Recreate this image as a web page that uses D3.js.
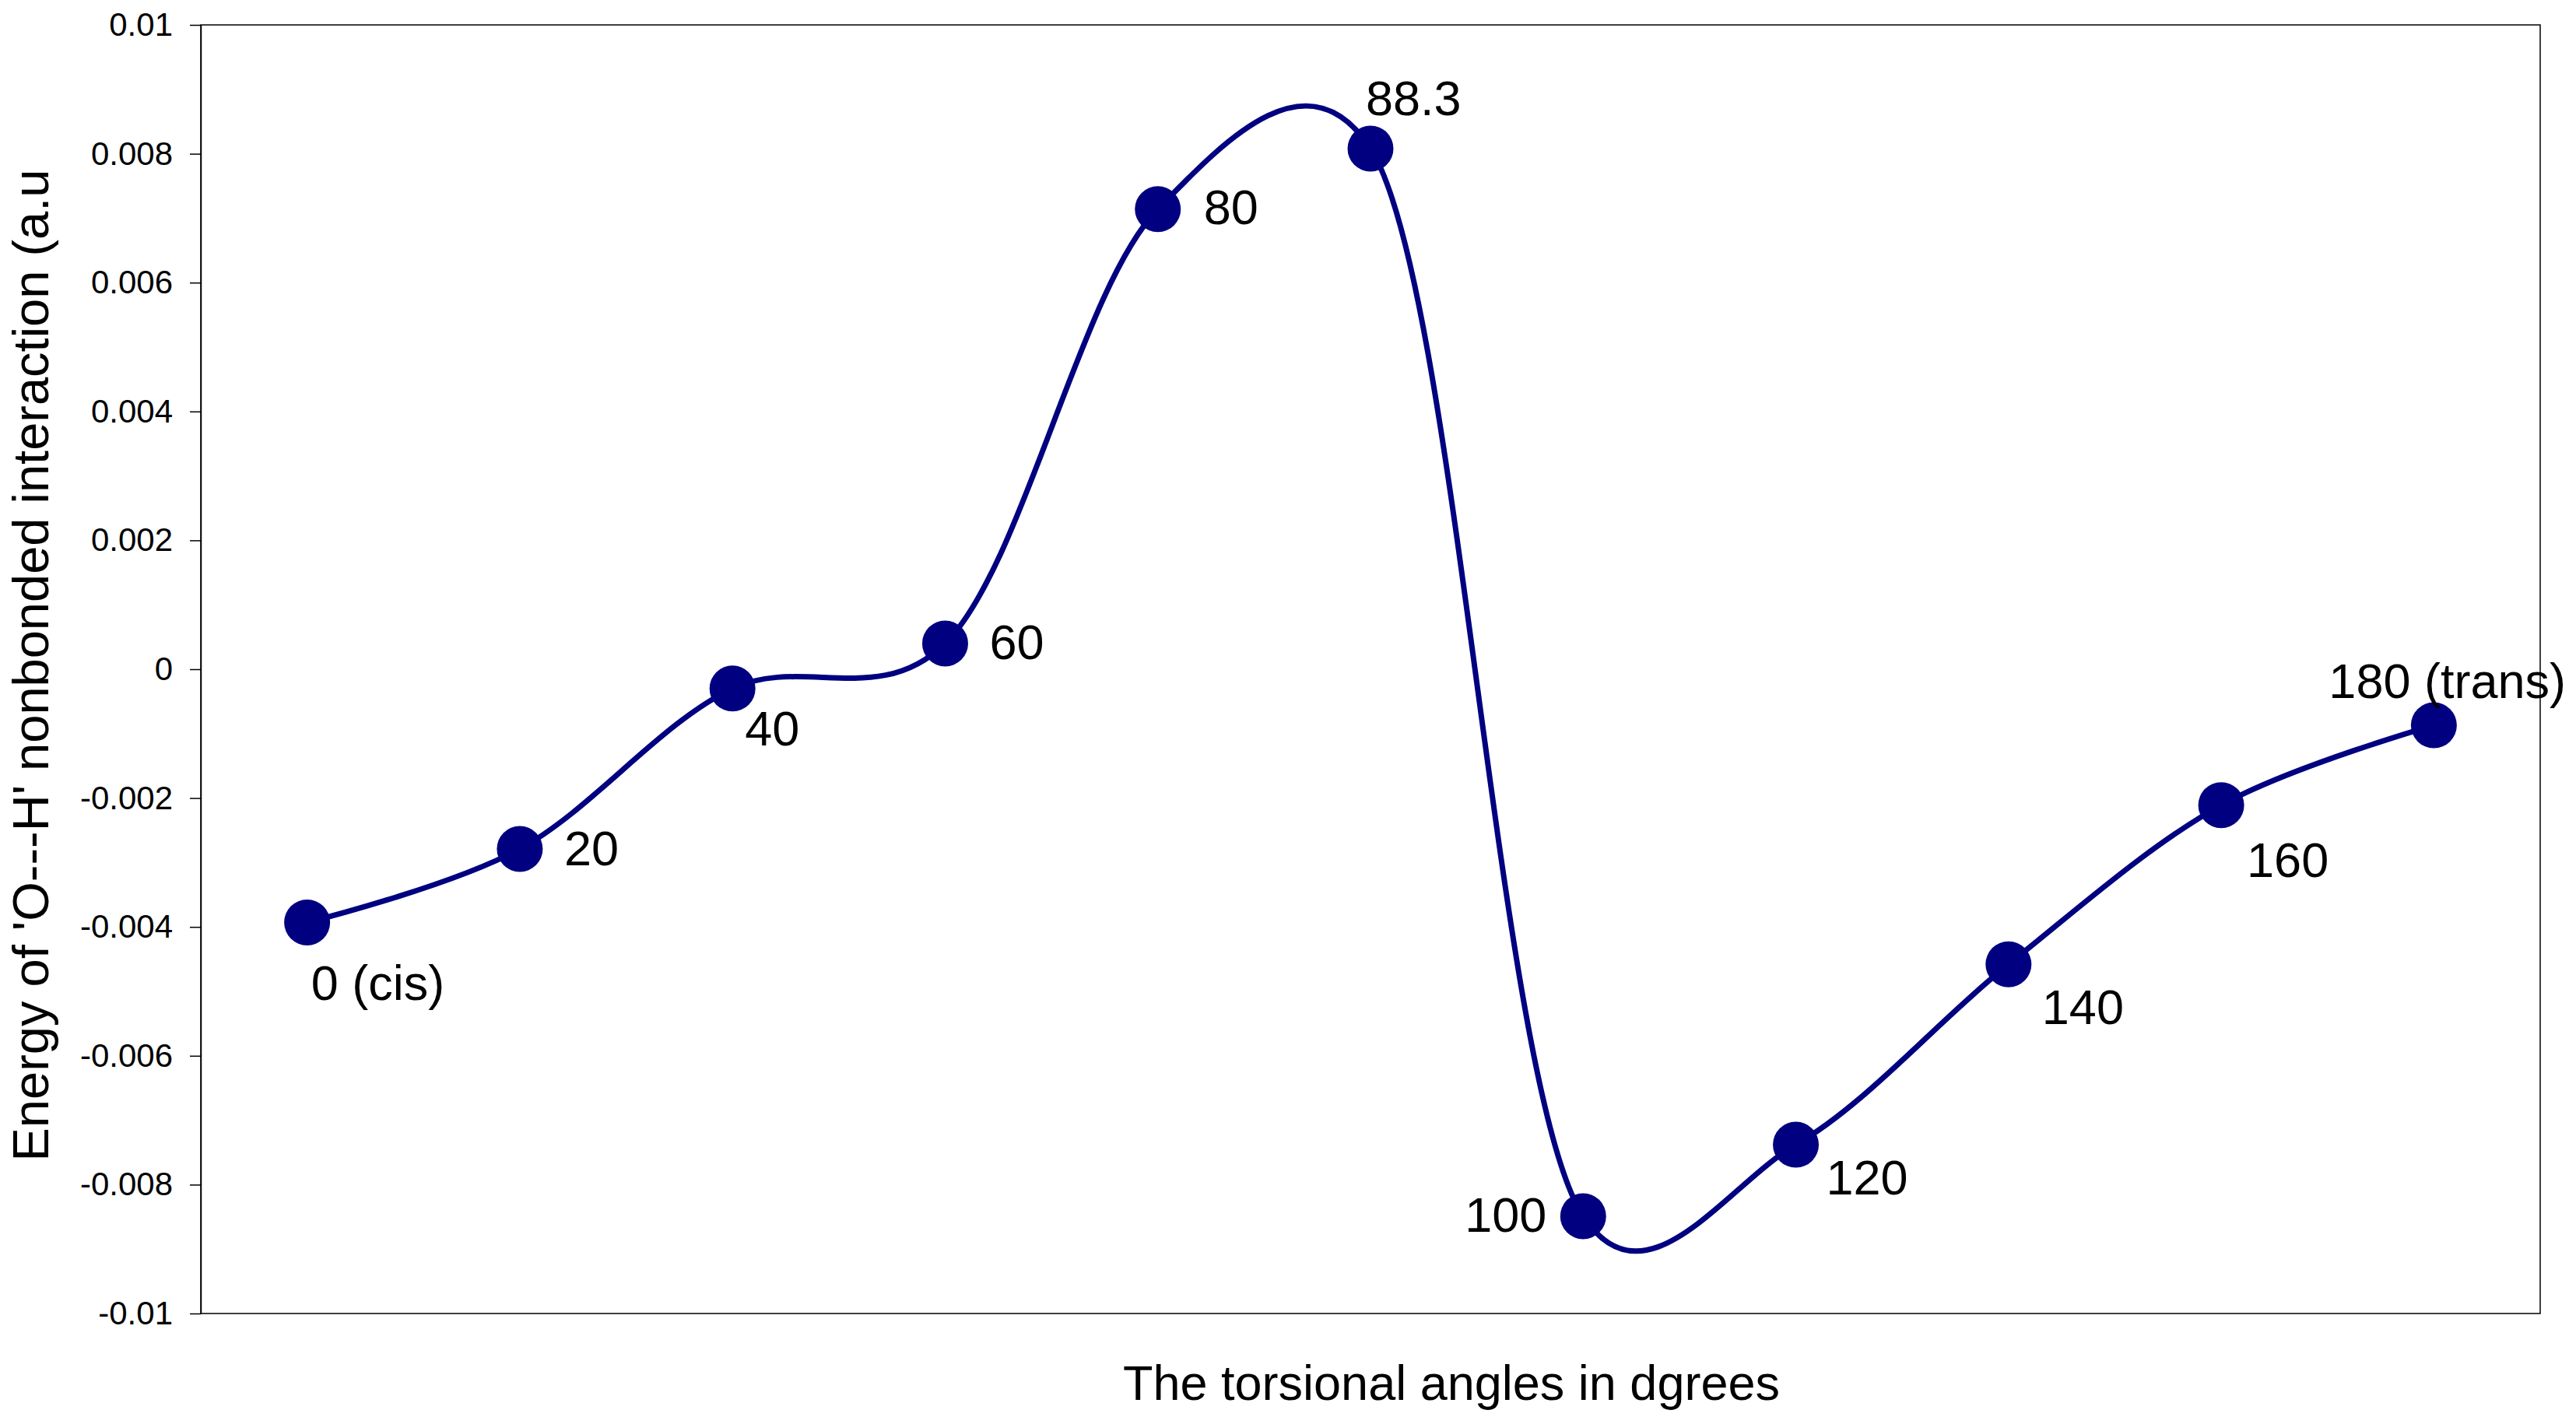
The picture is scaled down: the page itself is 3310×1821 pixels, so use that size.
<!DOCTYPE html>
<html>
<head>
<meta charset="utf-8">
<script src="https://d3js.org/d3.v7.min.js"></script>
<style>
  body { margin: 0; background: #fff; }
  text { font-family: "Liberation Sans", Arial, sans-serif; }
</style>
</head>
<body>
<svg id="chart"></svg>
<script>
// torsional angle categories and the energy
var angles = ["0", "20", "40", "60", "80", "88.3", "100", "120", "140", "160", "180"];
var energy = [-0.00393, -0.00279, -0.00030, 0.00040, 0.00714, 0.00808,
              -0.00849, -0.00738, -0.00458, -0.00211, -0.00087];
var pointLabels = ["0 (cis)", "20", "40", "60", "80", "88.3", "100", "120", "140", "160", "180 (trans)"];
var yTicks = [-0.01, -0.008, -0.006, -0.004, -0.002, 0, 0.002, 0.004, 0.006, 0.008, 0.01];
var yTickLabels = ["-0.01", "-0.008", "-0.006", "-0.004", "-0.002", "0", "0.002", "0.004", "0.006", "0.008", "0.01"];

// where each data label sits relative to its marker (dx to text start, dy to baseline)
var labelOffsets = [[5, 100], [57, 21], [16, 73], [57, 20], [59, 19], [-6, -43],
                    [-47, 20], [39, 64], [43, 77], [33, 92], [-135, -35]];

var width = 3310, height = 1821;
var margin = {top: 32, right: 46, bottom: 133, left: 258};
var w = width - margin.left - margin.right;
var h = height - margin.top - margin.bottom;
var navy = "#000080";

var svg = d3.select("#chart").attr("width", width).attr("height", height);
var g = svg.append("g").attr("transform", "translate(" + margin.left + "," + margin.top + ")");

var x = d3.scalePoint().domain(angles).range([0, w]).padding(0.5);
var y = d3.scaleLinear().domain([-0.01, 0.01]).range([h, 0]);

// plot frame
g.append("rect")
  .attr("width", w).attr("height", h)
  .attr("fill", "none").attr("stroke", "#000").attr("stroke-width", 1.5);

var yAxis = g.append("g")
  .call(d3.axisLeft(y).tickValues(yTicks)
    .tickFormat(function(d, i) { return yTickLabels[i]; })
    .tickSize(14).tickSizeOuter(0).tickPadding(22));
yAxis.selectAll("text").attr("font-size", 42).attr("fill", "#000")
  .style("font-family", '"Liberation Sans", Arial, sans-serif');
yAxis.selectAll("line").attr("stroke", "#000").attr("stroke-width", 1.5);
yAxis.select(".domain").attr("stroke", "#000").attr("stroke-width", 1.5);

var pts = angles.map(function(a, i) { return {a: a, v: energy[i], label: pointLabels[i], off: labelOffsets[i]}; });

// smoothed line, somewhere between uniform and centripetal catmull-rom
var line = d3.line()
  .x(function(d) { return x(d.a); })
  .y(function(d) { return y(d.v); })
  .curve(d3.curveCatmullRom.alpha(0.2));

g.append("path")
  .datum(pts)
  .attr("d", line)
  .attr("fill", "none")
  .attr("stroke", navy)
  .attr("stroke-width", 7);

g.selectAll("circle.pt")
  .data(pts)
  .enter().append("circle")
  .attr("class", "pt")
  .attr("cx", function(d) { return x(d.a); })
  .attr("cy", function(d) { return y(d.v); })
  .attr("r", 29.5)
  .attr("fill", navy);

g.selectAll("text.lbl")
  .data(pts)
  .enter().append("text")
  .attr("class", "lbl")
  .attr("x", function(d) { return x(d.a) + d.off[0]; })
  .attr("y", function(d) { return y(d.v) + d.off[1]; })
  .attr("text-anchor", function(d) { return d.a === "100" ? "end" : "start"; })
  .attr("font-size", 63)
  .attr("fill", "#000")
  .text(function(d) { return d.label; });

// axis titles
svg.append("text")
  .attr("x", 1865).attr("y", 1799)
  .attr("text-anchor", "middle")
  .attr("font-size", 63)
  .text("The torsional angles in dgrees");

svg.append("text")
  .attr("transform", "translate(62,855) rotate(-90)")
  .attr("text-anchor", "middle")
  .attr("font-size", 65)
  .text("Energy of 'O---H' nonbonded interaction (a.u");
</script>
</body>
</html>
